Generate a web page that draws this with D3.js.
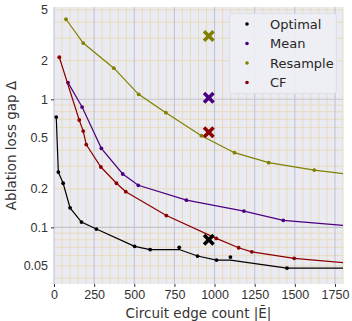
<!DOCTYPE html>
<html>
<head>
<meta charset="utf-8">
<script src="https://cdn.jsdelivr.net/npm/d3@7"></script>
<style>
  body { margin: 0; background: #fff; }
  svg { display: block; font-family: "DejaVu Sans", sans-serif; }
</style>
</head>
<body>
<svg id="chart" width="352" height="321"></svg>
<script>
// edge counts and loss gaps
const optimalX = [14, 27, 57, 100, 171, 264, 502, 599, 780, 894, 1012, 1099, 1451, 1950]
const optimalY = [0.727, 0.27, 0.221, 0.142, 0.110, 0.097, 0.0711, 0.0671, 0.0698, 0.0597, 0.0555, 0.0586, 0.0481, 0.052]
const meanX = [87, 175, 295, 428, 525, 825, 1183, 1428, 1950]
const meanY = [1.35, 0.87, 0.414, 0.261, 0.213, 0.163, 0.134, 0.1135, 0.100]
const resampleX = [75, 182, 373, 527, 697, 918, 1124, 1337, 1621, 1950]
const resampleY = [4.22, 2.75, 1.75, 1.094, 0.786, 0.52, 0.383, 0.32, 0.28, 0.25]
const cfX = [33, 157, 182, 201, 292, 389, 447, 700, 1011, 1150, 1232, 1496, 1950]
const cfY = [2.13, 0.689, 0.565, 0.443, 0.296, 0.221, 0.19, 0.1236, 0.082, 0.0693, 0.0644, 0.0573, 0.051]
// single-circuit results (X markers)
const crossX = [964, 964, 964, 964]
const crossY = [0.080, 1.03, 3.12, 0.552]

const seriesNames = ['Optimal', 'Mean', 'Resample', 'CF']
const seriesColors = ['#000000', '#4b0082', '#808000', '#8b0000']
const xTicks = [0, 250, 500, 750, 1000, 1250, 1500, 1750]
const yTickLabels = [5, 2, 1, 0.5, 0.2, 0.1, 0.05]

const series = [
  [optimalX, optimalY],
  [meanX, meanY],
  [resampleX, resampleY],
  [cfX, cfY]
].map((s, i) => ({
  name: seriesNames[i],
  color: seriesColors[i],
  points: s[0].map((x, j) => ({ x: x, y: s[1][j] })),
  cross: { x: crossX[i], y: crossY[i] }
}))

const margin = { left: 54, right: 9, top: 7, bottom: 37 }
const width = 352
const height = 321
const svg = d3.select('#chart')

const x = d3.scaleLinear().domain([0, 1800]).range([margin.left, width - margin.right])
const y = d3.scaleLog().domain([0.0361, 5.26]).range([height - margin.bottom, margin.top])

svg.append('rect')
  .attr('x', margin.left)
  .attr('y', margin.top)
  .attr('width', width - margin.left - margin.right)
  .attr('height', height - margin.top - margin.bottom)
  .attr('fill', '#eaeaf2')

svg.append('clipPath').attr('id', 'clip')
  .append('rect')
  .attr('x', margin.left)
  .attr('y', margin.top)
  .attr('width', width - margin.left - margin.right)
  .attr('height', height - margin.top - margin.bottom)

const grid = svg.append('g')

// minor grid
const xMinor = d3.range(0, 1801, 50).filter(v => v % 250 !== 0)
const yMinor = []
;[0.01, 0.1, 1].forEach(dec => {
  for (let k = 2; k <= 9; k++) yMinor.push(dec * k)
})
grid.selectAll('.xminor')
  .data(xMinor)
  .enter()
  .append('line')
  .attr('x1', d => x(d)).attr('x2', d => x(d))
  .attr('y1', margin.top).attr('y2', height - margin.bottom)
  .attr('stroke', '#e8dbbc')
  .attr('stroke-width', 1)
grid.selectAll('.yminor')
  .data(yMinor.filter(v => v > 0.0361 && v < 5.26))
  .enter()
  .append('line')
  .attr('x1', margin.left).attr('x2', width - margin.right)
  .attr('y1', d => y(d)).attr('y2', d => y(d))
  .attr('stroke', '#e8dbbc')
  .attr('stroke-width', 1)

// major grid
grid.selectAll('.xmajor')
  .data(xTicks)
  .enter()
  .append('line')
  .attr('x1', d => x(d)).attr('x2', d => x(d))
  .attr('y1', margin.top).attr('y2', height - margin.bottom)
  .attr('stroke', '#c4c4cc')
  .attr('stroke-width', 1.1)
grid.selectAll('.ymajor')
  .data([0.1, 1])
  .enter()
  .append('line')
  .attr('x1', margin.left).attr('x2', width - margin.right)
  .attr('y1', d => y(d)).attr('y2', d => y(d))
  .attr('stroke', '#c4c4cc')
  .attr('stroke-width', 1.1)

// axes
const xAxis = svg.append('g')
  .attr('transform', `translate(0,${height - margin.bottom})`)
  .call(d3.axisBottom(x).tickValues(xTicks).tickSize(3).tickPadding(3).tickFormat(d3.format('d')))
xAxis.select('.domain').remove()
xAxis.selectAll('line').attr('stroke', '#333')
xAxis.selectAll('text').attr('fill', '#333').style('font-size', '12.5px')

const yAxis = svg.append('g')
  .attr('transform', `translate(${margin.left},0)`)
  .call(d3.axisLeft(y).tickValues(yTickLabels).tickSize(0).tickPadding(6).tickFormat(d => String(d)))
yAxis.select('.domain').remove()
yAxis.selectAll('text').attr('fill', '#333').style('font-size', '12.5px')
yAxis.selectAll('.tick').filter(d => d === 1 || d === 0.1)
  .append('line').attr('x1', -3).attr('x2', 0).attr('stroke', '#333')

svg.append('text')
  .attr('x', (margin.left + width - margin.right) / 2)
  .attr('y', 318)
  .attr('text-anchor', 'middle')
  .attr('fill', '#333')
  .style('font-size', '13.5px')
  .text('Circuit edge count |Ẽ|')

svg.append('text')
  .attr('transform', `translate(16,${(margin.top + height - margin.bottom) / 2}) rotate(-90)`)
  .attr('text-anchor', 'middle')
  .attr('fill', '#333')
  .style('font-size', '13.5px')
  .text('Ablation loss gap Δ')

// lines: running minimum through the points
const plot = svg.append('g').attr('clip-path', 'url(#clip)')
const line = d3.line().x(d => x(d.x)).y(d => y(d.y))

series.forEach(s => {
  let best = Infinity
  const front = s.points.map(p => {
    best = Math.min(best, p.y)
    return { x: p.x, y: best }
  })
  plot.append('path')
    .datum(front)
    .attr('d', line)
    .attr('fill', 'none')
    .attr('stroke', s.color)
    .attr('stroke-width', 1.2)
  plot.selectAll(null)
    .data(s.points)
    .enter()
    .append('circle')
    .attr('cx', d => x(d.x))
    .attr('cy', d => y(d.y))
    .attr('r', 1.9)
    .attr('fill', s.color)
})

const crossPath = 'M-6,-3.5 L-3.5,-6 L0,-2.5 L3.5,-6 L6,-3.5 L2.5,0 L6,3.5 L3.5,6 L0,2.5 L-3.5,6 L-6,3.5 L-2.5,0 Z'
plot.selectAll('.cross')
  .data(series)
  .enter()
  .append('path')
  .attr('d', crossPath)
  .attr('transform', d => `translate(${x(d.cross.x)},${y(d.cross.y)})`)
  .attr('fill', d => d.color)

// legend
const legend = svg.append('g')
legend.append('rect')
  .attr('x', 229.5).attr('y', 13.5)
  .attr('width', 107).attr('height', 80)
  .attr('rx', 3)
  .attr('fill', '#eeeef5')
  .attr('fill-opacity', 0.9)
  .attr('stroke', '#dcdce4')
  .attr('stroke-width', 0.8)
const items = legend.selectAll('.item')
  .data(series)
  .enter()
  .append('g')
  .attr('transform', (d, i) => `translate(247,${24 + i * 19.5})`)
items.append('circle').attr('r', 1.8).attr('fill', d => d.color)
items.append('text')
  .attr('x', 23)
  .attr('dy', '0.35em')
  .attr('fill', '#262626')
  .style('font-size', '13px')
  .text(d => d.name)
</script>
</body>
</html>
